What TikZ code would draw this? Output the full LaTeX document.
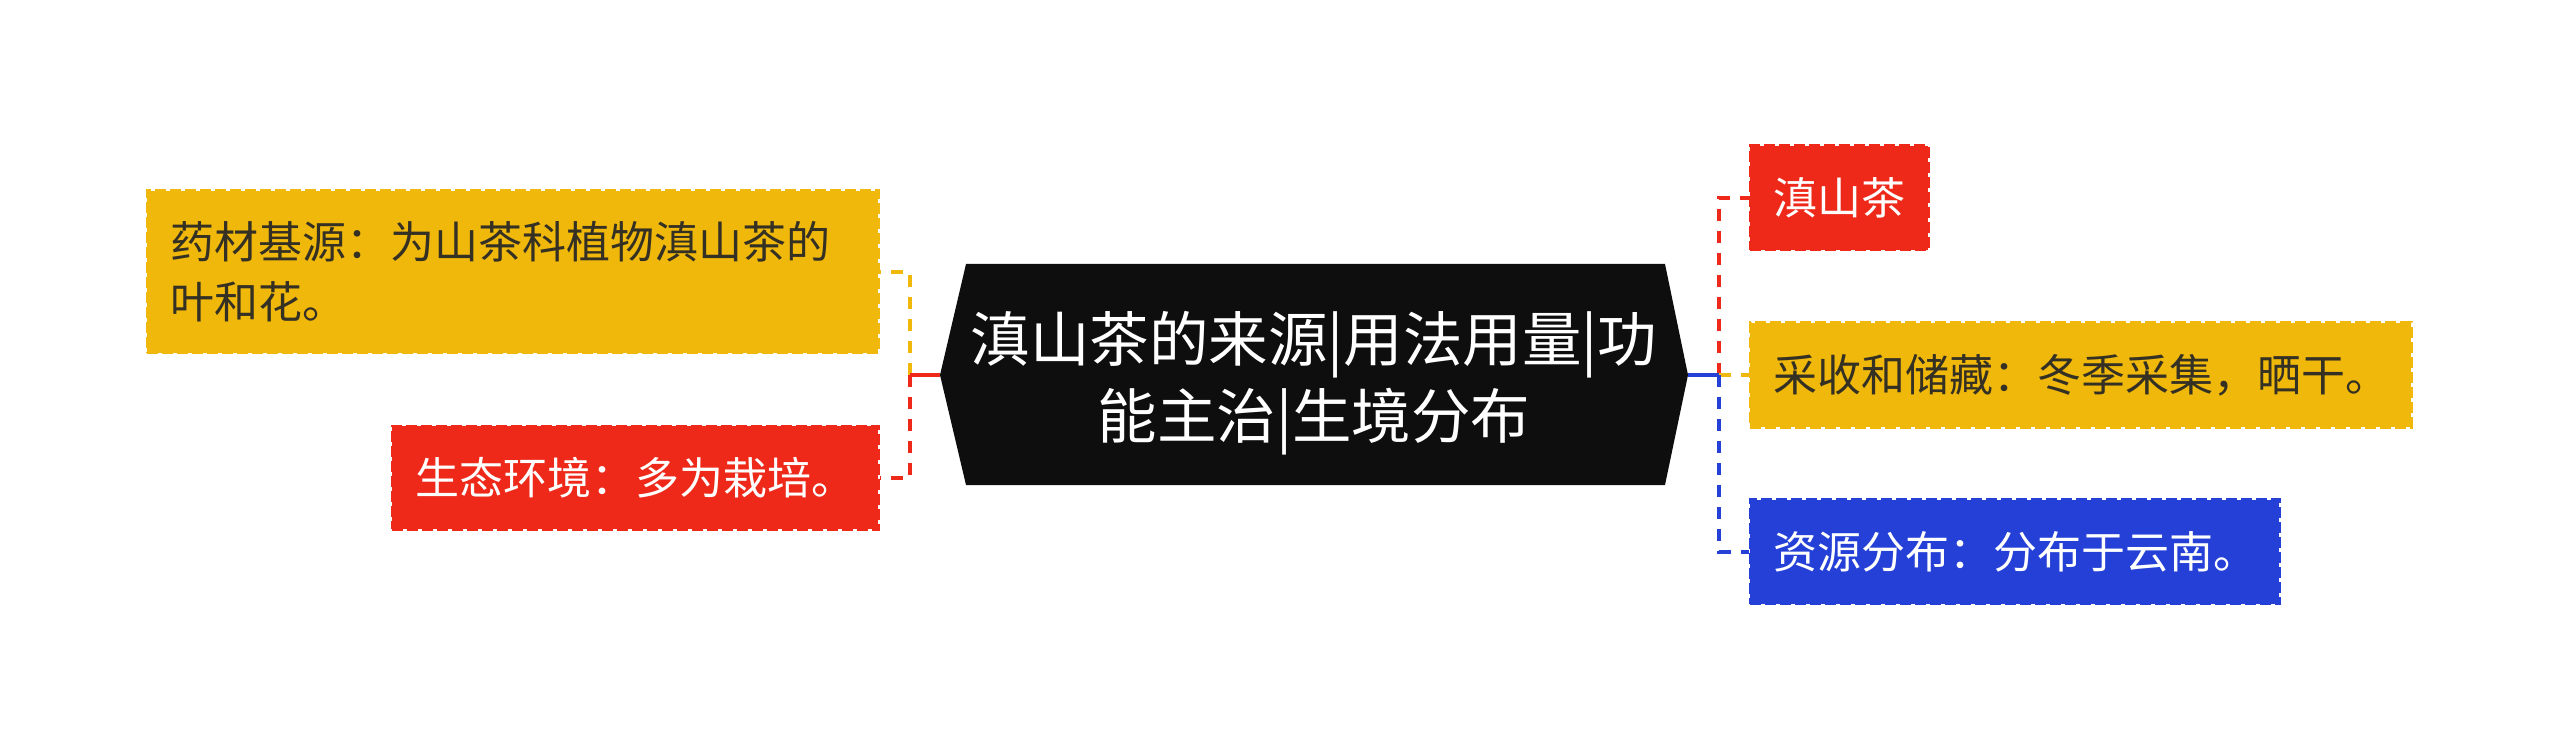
\documentclass[tikz,border=0pt]{standalone}
\usepackage{fontspec}
\setmainfont{Noto Sans CJK SC}
\usetikzlibrary{backgrounds}
\definecolor{cyellow}{RGB}{239,184,10}
\definecolor{cred}{RGB}{238,41,26}
\definecolor{cblue}{RGB}{36,64,214}
\definecolor{cblack}{RGB}{14,14,14}
\definecolor{ctext}{RGB}{52,48,36}
\tikzset{
  topic/.style={inner xsep=23pt, inner ysep=0pt, align=left,
    line width=3pt, dash pattern=on 11pt off 4pt,
    font=\fontsize{44}{60}\selectfont, minimum height=104pt},
  link/.style={line width=4pt, dash pattern=on 12pt off 10pt},
  trunk/.style={line width=4pt}
}
\begin{document}
\begin{tikzpicture}[x=1pt,y=-1pt]
\useasboundingbox (0,0) rectangle (2560,751);
% central topic
\coordinate (CL) at (940,375);
\coordinate (CR) at (1688,375);
\fill[cblack] (CL) -- (966,264) -- (1665,264) -- (CR) -- (1665,485) -- (966,485) -- cycle;
\node[text=white, font=\fontsize{59.5}{77.5}\selectfont, align=center, inner sep=0pt] (C) at (1314,383)
      {滇山茶的来源|用法用量|功\\能主治|生境分布};
% left topics
\node[topic, fill=cyellow, draw=cyellow, text=ctext, text width=685pt, minimum height=162pt] (L1) at (512.5,272)
  {药材基源：为山茶科植物滇山茶的\\叶和花。};
\node[topic, fill=cred, draw=cred, text=white, text width=440pt, minimum height=103pt] (L2) at (635,477.5)
  {生态环境：多为栽培。};
% right topics
\node[topic, fill=cred, draw=cred, text=white, text width=132pt] (R1) at (1839,198)
  {滇山茶};
\node[topic, fill=cyellow, draw=cyellow, text=ctext, text width=615pt] (R2) at (2080.5,375)
  {采收和储藏：冬季采集，晒干。};
\node[topic, fill=cblue, draw=cblue, text=white, text width=483pt] (R3) at (2014.5,551.5)
  {资源分布：分布于云南。};
% junctions
\coordinate (JL) at (910,375);
\coordinate (JR) at (1719,375);
% connectors
\begin{scope}[on background layer]
\draw[link, cyellow] (JL) |- (L1.east);
\draw[link, cred] (JL) |- (L2.east);
\draw[link, cred] (JR) |- (R1.west);
\draw[link, cyellow] (JR) -- (R2.west);
\draw[link, cblue] (JR) |- (R3.west);
\end{scope}
\draw[trunk, cred] (CL) -- (JL);
\draw[trunk, cblue] (CR) -- (JR);
\end{tikzpicture}
\end{document}
